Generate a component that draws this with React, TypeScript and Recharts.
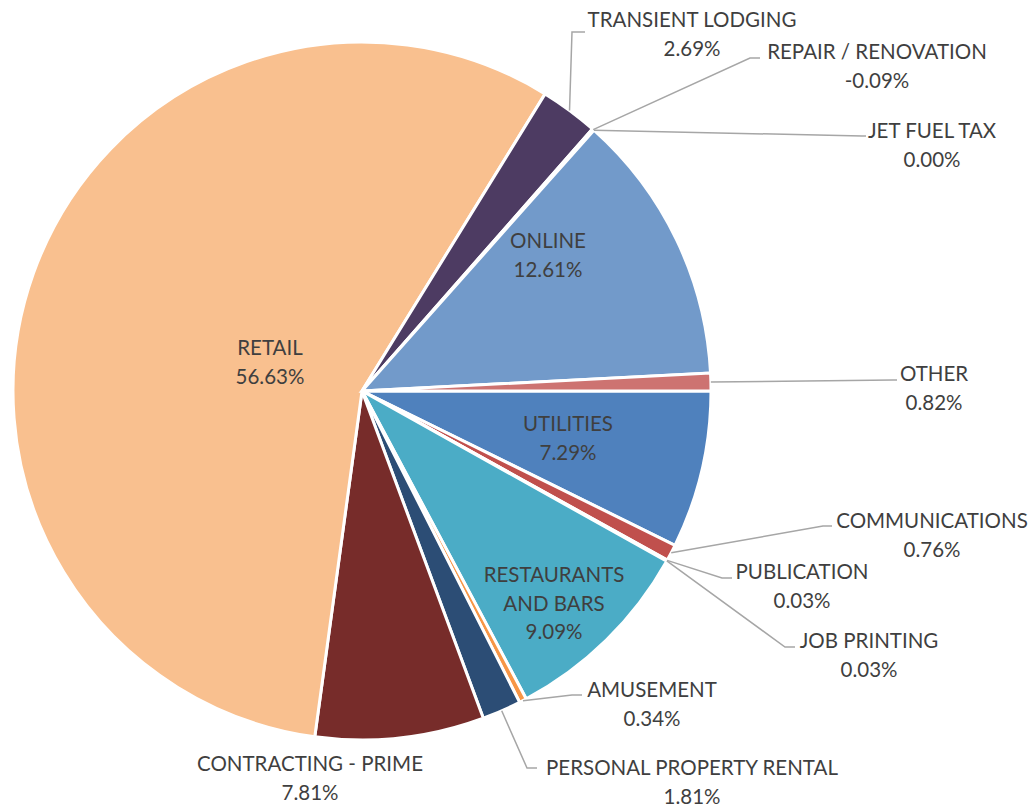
import React from 'react';
import { PieChart, Pie, Cell } from 'recharts';

const categories = [
  'UTILITIES',
  'COMMUNICATIONS',
  'PUBLICATION',
  'JOB PRINTING',
  'RESTAURANTS AND BARS',
  'AMUSEMENT',
  'PERSONAL PROPERTY RENTAL',
  'CONTRACTING - PRIME',
  'RETAIL',
  'TRANSIENT LODGING',
  'REPAIR / RENOVATION',
  'JET FUEL TAX',
  'ONLINE',
  'OTHER',
];

const shares = [7.29, 0.76, 0.03, 0.03, 9.09, 0.34, 1.81, 7.81, 56.63, 2.69, -0.09, 0.0, 12.61, 0.82];

const sliceColors = [
  '#4F81BD', '#C0504D', '#9BBB59', '#8064A2', '#4BACC6', '#F79646', '#2C4D75',
  '#772C2A', '#F9C08F', '#4D3B62', '#276A7C', '#B65708', '#729ACA', '#CD7371',
];

const labelLines: Record<string, string[]> = {
  'RESTAURANTS AND BARS': ['RESTAURANTS', 'AND BARS'],
};

// label layout, offsets from pie centre: text centre of first line, optional leader elbow and end
type LabelPos = { t: [number, number]; elbow?: [number, number]; end?: [number, number] };
const labelLayout: Record<string, LabelPos> = {
  'UTILITIES': { t: [206, 32] },
  'COMMUNICATIONS': { t: [570, 129], elbow: [461, 135], end: [470, 135] },
  'PUBLICATION': { t: [440, 180], elbow: [360, 187], end: [370, 187] },
  'JOB PRINTING': { t: [507, 249], elbow: [423, 256], end: [433, 256] },
  'RESTAURANTS AND BARS': { t: [192, 183] },
  'AMUSEMENT': { t: [290, 298], elbow: [210, 304], end: [220, 304] },
  'PERSONAL PROPERTY RENTAL': { t: [330, 376], elbow: [165, 377], end: [175, 377] },
  'CONTRACTING - PRIME': { t: [-52, 372] },
  'RETAIL': { t: [-92, -44] },
  'TRANSIENT LODGING': { t: [330, -372], elbow: [210, -359], end: [223, -359] },
  'REPAIR / RENOVATION': { t: [515, -340], elbow: [388, -333], end: [398, -333] },
  'JET FUEL TAX': { t: [570, -261], elbow: [500, -255], end: [504, -255] },
  'ONLINE': { t: [186, -151] },
  'OTHER': { t: [572, -18], elbow: [531, -11], end: [535, -11] },
};

const data = categories.map((name, i) => ({
  name,
  share: shares[i],
  value: Math.abs(shares[i]),
}));

const RAD = Math.PI / 180;
const FONT = 'Lato, "Noto Sans", sans-serif';
const TEXT_COLOR = '#3F3F3F';
const LINE_H = 28.5;

const renderLabel = (props: any) => {
  const { cx, cy, midAngle, outerRadius, index } = props;
  const d = data[index];
  if (!d) return null;
  const layout = labelLayout[d.name];
  if (!layout) return null;
  const lines = [...(labelLines[d.name] || [d.name]), `${d.share.toFixed(2)}%`];
  const tx = cx + layout.t[0];
  const ty = cy + layout.t[1];
  let leader = null;
  if (layout.elbow && layout.end) {
    const sx = cx + outerRadius * Math.cos(-midAngle * RAD);
    const sy = cy + outerRadius * Math.sin(-midAngle * RAD);
    const pts = `${sx},${sy} ${cx + layout.elbow[0]},${cy + layout.elbow[1]} ${cx + layout.end[0]},${cy + layout.end[1]}`;
    leader = <polyline points={pts} fill="none" stroke="#A6A6A6" strokeWidth={1.5} />;
  }
  return (
    <g key={`lbl-${index}`}>
      {leader}
      <text
        x={tx}
        y={ty}
        textAnchor="middle"
        dominantBaseline="central"
        fill={TEXT_COLOR}
        style={{ fontFamily: FONT, fontSize: 20.5 }}
      >
        {lines.map((ln, k) => (
          <tspan key={k} x={tx} y={ty + k * LINE_H} dominantBaseline="central">
            {ln}
          </tspan>
        ))}
      </text>
    </g>
  );
};

export default function App() {
  return (
    <div style={{ position: 'absolute', left: 0, top: 0, width: 1033, height: 806, background: '#ffffff' }}>
      <PieChart width={1033} height={806} margin={{ top: 0, right: 0, bottom: 0, left: 0 }}>
        <Pie
          data={data}
          dataKey="value"
          nameKey="name"
          cx={362}
          cy={391}
          outerRadius={349}
          startAngle={0}
          endAngle={-360}
          stroke="#ffffff"
          strokeWidth={3}
          label={renderLabel}
          labelLine={false}
          isAnimationActive={false}
        >
          {data.map((d, i) => (
            <Cell key={d.name} fill={sliceColors[i]} />
          ))}
        </Pie>
      </PieChart>
    </div>
  );
}
